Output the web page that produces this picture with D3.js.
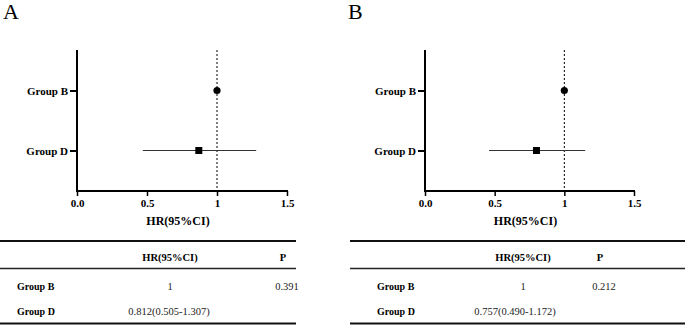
<!DOCTYPE html>
<html><head><meta charset="utf-8">
<script src="https://cdn.jsdelivr.net/npm/d3@7"></script>
<style>
html,body{margin:0;padding:0;background:#fff;}
svg{display:block;}
svg text{font-family:"Liberation Serif","Times New Roman",Times,serif !important;}
</style></head>
<body>
<svg id="chart" width="685" height="325"></svg>
<script>
const categories = ["Group B", "Group D"];
const panelLabels = ["A", "B"];
// plotted estimates (as drawn)
const hrA = [1, 0.87];
const lowA = [null, 0.47];
const highA = [null, 1.28];
const hrB = [1, 0.80];
const lowB = [null, 0.46];
const highB = [null, 1.15];
const tickValues = [0, 0.5, 1, 1.5];
const tickLabels = ["0.0", "0.5", "1", "1.5"];
const axisTitle = "HR(95%CI)";
const tableHeaders = ["HR(95%CI)", "P"];
const tableA = ["1", "0.812(0.505-1.307)"];
const pA = "0.391";
const tableB = ["1", "0.757(0.490-1.172)"];
const pB = "0.212";

const svg = d3.select("#chart");

const panels = [
  {label: panelLabels[0], lx: 3, x0: 77, x1: 287, hr: hrA, low: lowA, high: highA,
   tx0: 0, tx1: 296, hrCol: 170, pCol: 287, grpX: 17, vals: tableA, p: pA, valCx: 169},
  {label: panelLabels[1], lx: 348, x0: 425, x1: 634, hr: hrB, low: lowB, high: highB,
   tx0: 350, tx1: 685, hrCol: 523, pCol: 604, grpX: 377, vals: tableB, p: pB, valCx: 515}
];

const yTop = 50, yBot = 191;

panels.forEach(P => {
  const g = svg.append("g");
  g.append("text").attr("x", P.lx).attr("y", 19).attr("font-size", 22)
    .attr("fill", "#000").text(P.label);

  const x = d3.scaleLinear().domain([0, 1.5]).range([P.x0, P.x1]);
  const y = d3.scalePoint().domain(categories).range([yTop, yBot]).padding(0.675);

  // reference line at HR = 1
  g.append("line").attr("x1", x(1)).attr("x2", x(1)).attr("y1", yTop).attr("y2", yBot)
    .attr("stroke", "#000").attr("stroke-width", 1).attr("stroke-dasharray", "2,2");

  // y axis
  const ya = g.append("g").attr("transform", `translate(${P.x0},0)`)
    .call(d3.axisLeft(y).tickSize(7).tickSizeOuter(0).tickPadding(2));
  ya.select(".domain").attr("stroke-width", 2).attr("d", `M0,${yTop}V${yBot}`);
  ya.selectAll(".tick line").attr("stroke-width", 2);
  ya.selectAll(".tick text").attr("font-size", 11).attr("font-weight", "bold").attr("fill", "#000");

  // x axis
  const xa = g.append("g").attr("transform", `translate(0,${yBot})`)
    .call(d3.axisBottom(x).tickValues(tickValues).tickFormat((d, i) => tickLabels[i])
      .tickSize(5).tickSizeOuter(0).tickPadding(3));
  xa.select(".domain").attr("stroke-width", 2).attr("d", `M${P.x0 - 1},0H${P.x1 + 1}`);
  xa.selectAll(".tick line").attr("stroke-width", 1.5);
  xa.selectAll(".tick text").attr("font-size", 11).attr("font-weight", "bold").attr("fill", "#000");

  g.append("text").attr("x", (P.x0 + P.x1) / 2 - 4).attr("y", 225)
    .attr("text-anchor", "middle").attr("font-size", 12).attr("font-weight", "bold")
    .text(axisTitle);

  // CI lines
  categories.forEach((c, i) => {
    if (P.low[i] != null) {
      g.append("line").attr("x1", x(P.low[i])).attr("x2", x(P.high[i]))
        .attr("y1", y(c)).attr("y2", y(c)).attr("stroke", "#333").attr("stroke-width", 1);
    }
  });
  // markers
  categories.forEach((c, i) => {
    if (i === 0) {
      g.append("circle").attr("cx", x(P.hr[i])).attr("cy", y(c)).attr("r", 3.6).attr("fill", "#000");
    } else {
      g.append("rect").attr("x", x(P.hr[i]) - 3.5).attr("y", y(c) - 3.5)
        .attr("width", 7).attr("height", 7).attr("fill", "#000");
    }
  });

  // table
  const t = g.append("g");
  t.append("line").attr("x1", P.tx0).attr("x2", P.tx1).attr("y1", 241).attr("y2", 241)
    .attr("stroke", "#111").attr("stroke-width", 2);
  t.append("line").attr("x1", P.tx0).attr("x2", P.tx1).attr("y1", 268.5).attr("y2", 268.5)
    .attr("stroke", "#222").attr("stroke-width", 1.5);
  t.append("line").attr("x1", P.tx0).attr("x2", P.tx1).attr("y1", 323.5).attr("y2", 323.5)
    .attr("stroke", "#111").attr("stroke-width", 2);
  t.append("text").attr("x", P.hrCol).attr("y", 261).attr("text-anchor", "middle")
    .attr("font-size", 10.5).attr("font-weight", "bold").text(tableHeaders[0]);
  t.append("text").attr("x", P.pCol - 4).attr("y", 261).attr("text-anchor", "middle")
    .attr("font-size", 10.5).attr("font-weight", "bold").text(tableHeaders[1]);
  const rowY = [289.5, 314.5];
  categories.forEach((c, i) => {
    t.append("text").attr("x", P.grpX).attr("y", rowY[i]).attr("font-size", 10)
      .attr("font-weight", "bold").text(c);
    t.append("text").attr("x", i === 0 ? P.hrCol : P.valCx).attr("y", rowY[i])
      .attr("text-anchor", "middle").attr("font-size", 10.5).attr("fill", "#222").text(P.vals[i]);
  });
  t.append("text").attr("x", P.pCol).attr("y", rowY[0]).attr("text-anchor", "middle")
    .attr("font-size", 10.5).attr("fill", "#222").text(P.p);
});
</script>
</body></html>
